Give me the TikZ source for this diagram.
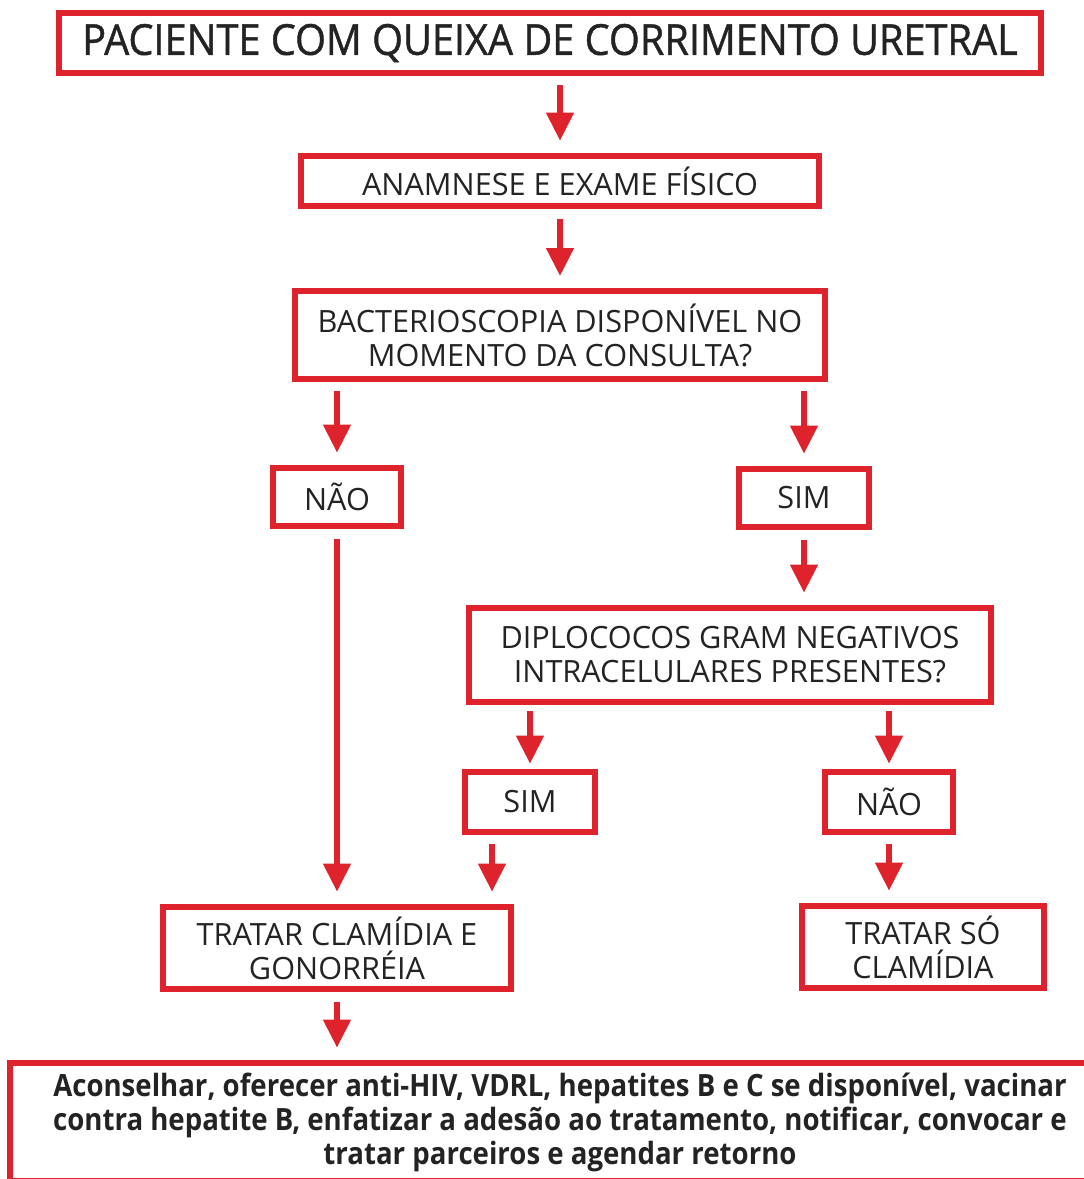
\documentclass[tikz,border=0pt]{standalone}
\usepackage{fontspec}
\setmainfont{Open Sans}
\newfontfamily\titlefont{Open Sans}[FakeStretch=0.93,FakeBold=1]
\newfontfamily\notefont{Open Sans}[FakeStretch=0.9]
\usetikzlibrary{arrows.meta,calc}

\definecolor{boxred}{RGB}{222,35,45}
\definecolor{txtgray}{RGB}{35,35,35}

\tikzset{every picture/.style={line width=0.75pt}}
\tikzset{
  flowbox/.style={draw=boxred, line width=4.5pt, align=center, text=txtgray, inner sep=0pt,
    font=\fontsize{23}{25.5}\selectfont},
  flowarrow/.style={draw=boxred, line width=4.2pt, -{Triangle[width=20pt,length=21pt]},
    shorten <=7pt, shorten >=9pt},
}

\begin{document}
\begin{tikzpicture}[x=0.75pt,y=0.75pt,yscale=-1,xscale=1]
\useasboundingbox (0,0) rectangle (1084,1179);
\clip (0,0) rectangle (1084,1179);

% Boxes
\node[flowbox, minimum width=737pt, minimum height=45pt, font=\titlefont\fontsize{32}{36}\selectfont] (queixa) at (550,43) {PACIENTE COM QUEIXA DE CORRIMENTO URETRAL};
\node[flowbox, minimum width=388pt, minimum height=38pt] (anamnese) at (560,181) {ANAMNESE E EXAME FÍSICO};
\node[flowbox, minimum width=397pt, minimum height=66pt] (bacterio) at (560,335) {BACTERIOSCOPIA DISPONÍVEL NO\\MOMENTO DA CONSULTA?};
\node[flowbox, minimum width=96pt, minimum height=44pt] (nao1) at (337,497) {NÃO};
\node[flowbox, minimum width=97pt, minimum height=44pt] (sim1) at (804,498) {SIM};
\node[flowbox, minimum width=391pt, minimum height=71pt] (diplo) at (730,655) {DIPLOCOCOS GRAM NEGATIVOS\\INTRACELULARES PRESENTES?};
\node[flowbox, minimum width=97pt, minimum height=45pt] (sim2) at (530,802) {SIM};
\node[flowbox, minimum width=96pt, minimum height=45pt] (nao2) at (889,802) {NÃO};
\node[flowbox, minimum width=261pt, minimum height=62pt] (tratCG) at (337,948) {TRATAR CLAMÍDIA E\\GONORRÉIA};
\node[flowbox, minimum width=181pt, minimum height=62pt] (tratC) at (923,947) {TRATAR SÓ\\CLAMÍDIA};
\node[flowbox, minimum width=825pt, minimum height=89pt, font=\notefont\bfseries\fontsize{23}{25.5}\selectfont] (conduta) at (560,1122) {Aconselhar, oferecer anti-HIV, VDRL, hepatites B e C se disponível, vacinar\\contra hepatite B, enfatizar a adesão ao tratamento, notificar, convocar e\\tratar parceiros e agendar retorno};

% Arrows
\coordinate (s2foot) at ($(sim2.south)+(-38,0)$);
\draw[flowarrow] (queixa.south -| anamnese) -- (anamnese.north);
\draw[flowarrow] (anamnese.south) -- (bacterio.north);
\draw[flowarrow] (bacterio.south -| nao1) -- (nao1.north);
\draw[flowarrow] (bacterio.south -| sim1) -- (sim1.north);
\draw[flowarrow] (sim1.south) -- (sim1.south |- diplo.north);
\draw[flowarrow] (nao1.south) -- (tratCG.north);
\draw[flowarrow, shorten <=4pt, shorten >=4pt] (diplo.south -| sim2) -- (sim2.north);
\draw[flowarrow, shorten <=4pt, shorten >=4pt] (diplo.south -| nao2) -- (nao2.north);
\draw[flowarrow] (s2foot) -- (s2foot |- tratCG.north);
\draw[flowarrow] (nao2.south) -- (nao2.south |- tratC.north);
\draw[flowarrow] (tratCG.south) -- (tratCG.south |- conduta.north);

\end{tikzpicture}
\end{document}
